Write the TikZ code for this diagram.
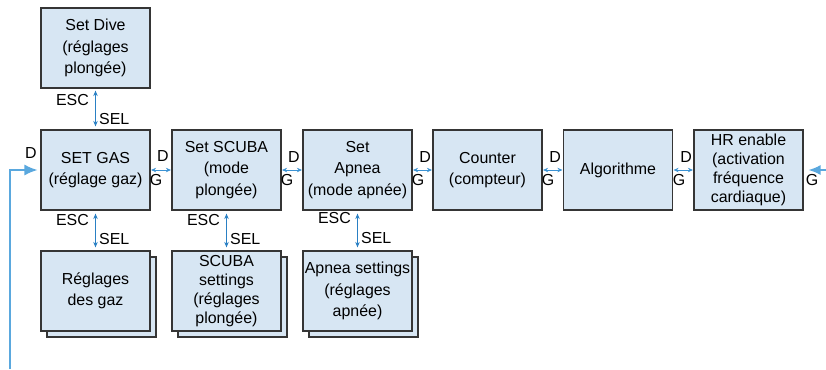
\documentclass[tikz,border=0pt]{standalone}
\usepackage{fontspec}
\setmainfont{Liberation Sans}
\usetikzlibrary{arrows.meta,shadows}
\definecolor{boxfill}{HTML}{D7E6F3}
\definecolor{boxline}{HTML}{353535}
\definecolor{arrblue}{HTML}{2A80C4}
\definecolor{linblue}{HTML}{3C93D4}
\definecolor{fbblue}{HTML}{5AA8DE}
\tikzset{
  blk/.style={draw=boxline, fill=boxfill, line width=1.2bp, minimum width=109bp,
    minimum height=80bp, inner sep=0pt, align=center, font=\fontsize{16}{21.5}\selectfont},
  tight/.style={font=\fontsize{16}{19}\selectfont},
  stack/.style={copy shadow={shadow xshift=6bp, shadow yshift=-6bp}},
  varr/.style={arrblue, line width=0.9bp, {Stealth[length=5.5bp,width=4.5bp]}-{Stealth[length=5.5bp,width=4.5bp]}},
  harr/.style={linblue, line width=0.9bp, {Stealth[length=5bp,width=4.5bp]}-{Stealth[length=5bp,width=4.5bp]}},
  lbl/.style={inner sep=0pt, font=\fontsize{16}{18}\selectfont},
  fb/.style={fbblue, line width=1.3bp}
}
\begin{document}
\begin{tikzpicture}[x=1bp,y=-1bp]
\useasboundingbox (0,0) rectangle (826,369);
% top row
\node[blk] (dive) at (95.5,48) {Set Dive\\(réglages\\plongée)};
\node[blk] (gas) at (95.5,170) {SET GAS\\(réglage gaz)};
\node[blk] (scuba) at (226.5,170) {Set SCUBA\\(mode\\plongée)};
\node[blk] (apnea) at (357.5,170) {Set\\Apnea\\(mode apnée)};
\node[blk] (counter) at (487.5,170) {Counter\\(compteur)};
\node[blk] (algo) at (618,170) {Algorithme};
\node[blk,tight] (hr) at (748.5,170) {HR enable\\(activation\\fréquence\\cardiaque)};
% bottom row
\node[blk,stack] (rgaz) at (95.5,291) {Réglages\\des gaz};
\node[blk,stack,tight] (rscuba) at (226.5,291) {SCUBA\\settings\\(réglages\\plongée)};
\node[blk,stack] (rapnea) at (357.5,291) {Apnea settings\\(réglages\\apnée)};
% vertical links
\draw[varr, shorten <=2bp, shorten >=3bp] (dive.south) -- (gas.north);
\draw[varr, shorten <=3bp, shorten >=3bp] (gas.south) -- (rgaz.north);
\draw[varr, shorten <=3bp, shorten >=3bp] (scuba.south) -- (rscuba.north);
\draw[varr, shorten <=3bp, shorten >=3bp] (apnea.south) -- (rapnea.north);
\node[lbl, anchor=east] (e1) at (89,100) {ESC};
\node[lbl, anchor=west] (s1) at (99,119) {SEL};
\node[lbl, anchor=east] (e2) at (89,220) {ESC};
\node[lbl, anchor=west] (s2) at (99,239) {SEL};
\node[lbl, anchor=east] (e3) at (220,220) {ESC};
\node[lbl, anchor=west] (s3) at (230,239) {SEL};
\node[lbl, anchor=east] (e4) at (351,218) {ESC};
\node[lbl, anchor=west] (s4) at (361,238) {SEL};
% horizontal links
\draw[harr, shorten <=0.5bp, shorten >=0.5bp] (gas.east) -- (scuba.west);
\draw[harr, shorten <=0.5bp, shorten >=0.5bp] (scuba.east) -- (apnea.west);
\draw[harr, shorten <=0.5bp, shorten >=0.5bp] (apnea.east) -- (counter.west);
\draw[harr, shorten <=0.5bp, shorten >=0.5bp] (counter.east) -- (algo.west);
\draw[harr, shorten <=0.5bp, shorten >=0.5bp] (algo.east) -- (hr.west);
\node[lbl] (d1) at (163,156) {D};
\node[lbl] (g1) at (156,180) {G};
\node[lbl] (d2) at (294,157) {D};
\node[lbl] (g2) at (287,180) {G};
\node[lbl] (d3) at (425,157) {D};
\node[lbl] (g3) at (418,180) {G};
\node[lbl] (d4) at (555,157) {D};
\node[lbl] (g4) at (548,180) {G};
\node[lbl] (d5) at (686,157) {D};
\node[lbl] (g5) at (679,180) {G};
% feedback
\coordinate (fbot) at (10,369);
\coordinate (fcor) at (10,170);
\coordinate (rend) at (826,170);
\draw[fb, -{Latex[length=13bp,width=11bp]}] (fbot) -- (fcor) -- ([xshift=-3bp]gas.west);
\draw[fb, -{Latex[length=12bp,width=10bp]}] (rend) -- ([xshift=5bp]hr.east);
\node[lbl] (d0) at (31,153) {D};
\node[lbl] (g6) at (812,180) {G};
\end{tikzpicture}
\end{document}
